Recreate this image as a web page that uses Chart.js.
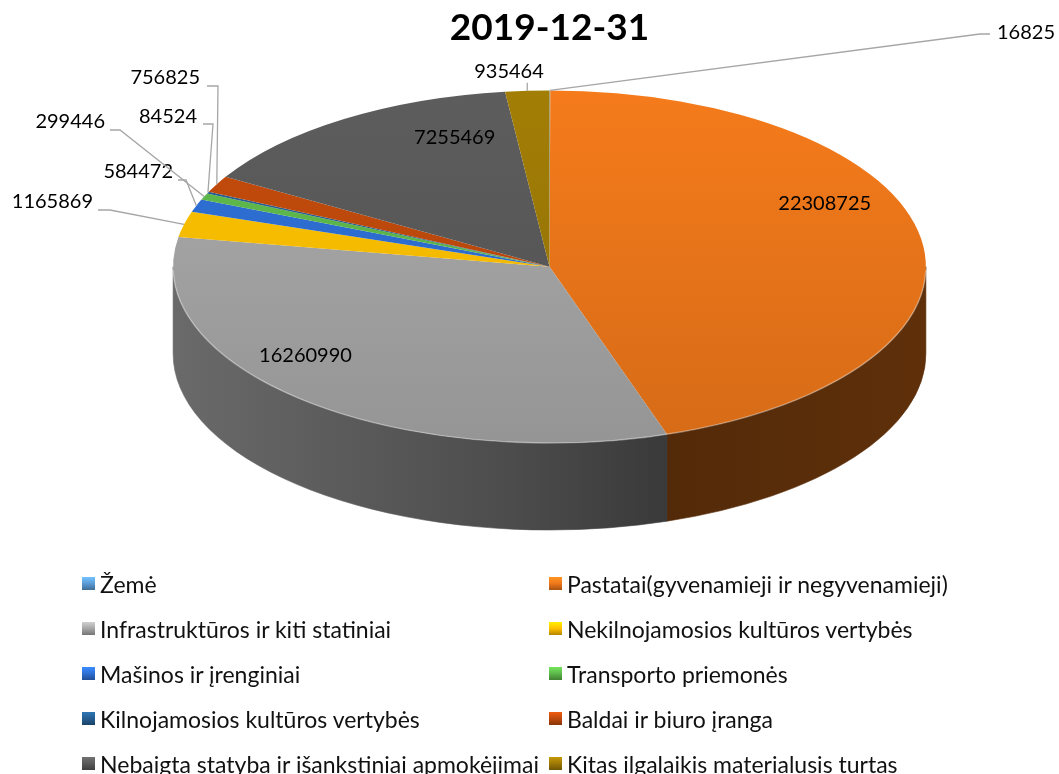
<!DOCTYPE html>
<html>
<head>
<meta charset="utf-8">
<script src="https://cdn.jsdelivr.net/npm/chart.js@4.4.1/dist/chart.umd.min.js"></script>
<style>
  body { margin: 0; background: #fff; }
  #wrap { position: relative; width: 1059px; height: 774px; font-family: Lato, sans-serif; }
  .col { position: absolute; top: 561px; font-size: 23px; color: #111; }
  #legend1 { right: 520px; }
  #legend2 { left: 549px; }
  .item { display: flex; align-items: center; height: 45px; white-space: nowrap; }
  .box { width: 13px; height: 13px; margin-right: 5px; flex: none; }
</style>
</head>
<body>
<div id="wrap">
  <canvas id="canvas" width="1059" height="774"></canvas>
  <div class="col" id="legend1"></div>
  <div class="col" id="legend2"></div>
</div>
<script>
// data
var title = '2019-12-31';
var categories = [
  'Žemė',
  'Pastatai(gyvenamieji ir negyvenamieji)',
  'Infrastruktūros ir kiti statiniai',
  'Nekilnojamosios kultūros vertybės',
  'Mašinos ir įrenginiai',
  'Transporto priemonės',
  'Kilnojamosios kultūros vertybės',
  'Baldai ir biuro įranga',
  'Nebaigta statyba ir išankstiniai apmokėjimai',
  'Kitas ilgalaikis materialusis turtas'
];
var values = [16825, 22308725, 16260990, 1165869, 584472, 299446, 84524, 756825, 7255469, 935464];
var colors = ['#5B9BD5', '#EE771A', '#A6A6A6', '#FFC000', '#2E6FD4', '#5DB84A', '#255E91', '#C04A0C', '#5A5A5A', '#9E7A06'];

// look of the "3D" pie
var stretch = 2.135;   // top face is a circle stretched sideways
var depth = 87;        // height of the side wall

// where each value label goes: inside (fraction of radius + nudge) or outside with a leader line
var labelPlace = [
  {text: [997, 33, 'left'], knee: [[980, 34], [990, 34]]},
  {inside: 0.7, dx: 15, dy: -44},
  {inside: 0.7, dx: -72, dy: -5},
  {text: [93, 202, 'right'], knee: [[110, 210], [98, 210]]},
  {text: [173, 172, 'right'], knee: [[186, 180], [178, 180]]},
  {text: [105, 122, 'right'], knee: [[120, 130], [110, 130]]},
  {text: [197, 117, 'right'], knee: [[213, 124], [203, 124]]},
  {text: [200, 78, 'right'], knee: [[218, 86], [207, 86]]},
  {inside: 0.7, dx: 49, dy: -26},
  {text: [509, 72, 'center'], tick: 8}
];

function shade(hex, f) {
  var n = parseInt(hex.slice(1), 16);
  var r = Math.min(255, Math.round(((n >> 16) & 255) * f));
  var g = Math.min(255, Math.round(((n >> 8) & 255) * f));
  var b = Math.min(255, Math.round((n & 255) * f));
  return 'rgb(' + r + ',' + g + ',' + b + ')';
}

var pie3d = {
  id: 'pie3d',
  beforeDatasetsDraw: function(chart) {
    var ctx = chart.ctx;
    var arcs = chart.getDatasetMeta(0).data;
    var cx = arcs[0].x, cy = arcs[0].y, r = arcs[0].outerRadius;
    var rx = r * stretch, ry = r;

    // side wall, only the front half can be seen
    ctx.save();
    arcs.forEach(function(arc, i) {
      [-2 * Math.PI, 0, 2 * Math.PI].forEach(function(shift) {
        var a0 = Math.max(arc.startAngle + shift, 0);
        var a1 = Math.min(arc.endAngle + shift, Math.PI);
        if (a1 <= a0) return;
        var g = ctx.createLinearGradient(cx - rx, 0, cx + rx, 0);
        g.addColorStop(0, shade(colors[i], 0.64));
        g.addColorStop(0.45, shade(colors[i], 0.46));
        g.addColorStop(0.65, shade(colors[i], 0.35));
        g.addColorStop(1, shade(colors[i], 0.4));
        ctx.beginPath();
        ctx.ellipse(cx, cy, rx, ry, 0, a0, a1, false);
        ctx.ellipse(cx, cy + depth, rx, ry, 0, a1, a0, true);
        ctx.closePath();
        ctx.fillStyle = g;
        ctx.strokeStyle = g;
        ctx.lineWidth = 0.6;
        ctx.fill();
        ctx.stroke();
      });
    });
    ctx.restore();

    // top face: let Chart.js draw the arcs, stretched sideways
    ctx.save();
    ctx.translate(cx, cy);
    ctx.scale(stretch, 1);
    ctx.translate(-cx, -cy);
  },
  afterDatasetsDraw: function(chart) {
    var ctx = chart.ctx;
    ctx.restore();
    var arcs = chart.getDatasetMeta(0).data;
    var cx = arcs[0].x, cy = arcs[0].y, r = arcs[0].outerRadius;
    var rx = r * stretch, ry = r;

    // light rim on the front edge
    ctx.save();
    ctx.beginPath();
    ctx.ellipse(cx, cy, rx, ry, 0, 0.02, Math.PI - 0.02, false);
    ctx.strokeStyle = 'rgba(255,255,255,0.35)';
    ctx.lineWidth = 1.5;
    ctx.stroke();
    ctx.restore();

    // value labels
    ctx.save();
    ctx.font = '20px Lato';
    ctx.fillStyle = '#000';
    ctx.textBaseline = 'middle';
    arcs.forEach(function(arc, i) {
      var p = labelPlace[i];
      var mid = (arc.startAngle + arc.endAngle) / 2;
      var txt = String(values[i]);
      if (p.inside) {
        ctx.textAlign = 'center';
        ctx.fillText(txt, cx + rx * p.inside * Math.cos(mid) + p.dx, cy + ry * p.inside * Math.sin(mid) + p.dy);
        return;
      }
      var ex = cx + rx * Math.cos(mid), ey = cy + ry * Math.sin(mid);
      ctx.strokeStyle = '#A6A6A6';
      ctx.lineWidth = 1.3;
      ctx.beginPath();
      ctx.moveTo(ex, ey);
      if (p.knee) {
        ctx.lineTo(p.knee[0][0], p.knee[0][1]);
        ctx.lineTo(p.knee[1][0], p.knee[1][1]);
      } else {
        ctx.lineTo(ex, ey - p.tick);
      }
      ctx.stroke();
      ctx.textAlign = p.text[2];
      ctx.fillText(txt, p.text[0], p.text[1]);
    });
    ctx.restore();
  }
};

Chart.defaults.font.family = 'Lato';

var ctx = document.getElementById('canvas').getContext('2d');
var myChart = new Chart(ctx, {
  type: 'pie',
  data: {
    labels: categories,
    datasets: [{
      data: values,
      backgroundColor: function(c) {
        var area = c.chart.chartArea;
        var base = colors[c.dataIndex];
        if (!area) return base;
        var g = c.chart.ctx.createLinearGradient(0, area.top, 0, area.bottom);
        g.addColorStop(0, shade(base, 1.03));
        g.addColorStop(1, shade(base, 0.9));
        return g;
      },
      borderWidth: 0,
      clip: false
    }]
  },
  options: {
    responsive: false,
    animation: false,
    events: [],
    layout: { padding: { left: 150, right: 110, top: 0, bottom: 331 } },
    plugins: {
      legend: { display: false },
      tooltip: { enabled: false },
      title: {
        display: true,
        text: title,
        color: '#000',
        font: { family: 'Lato', size: 37, weight: 'bold' },
        padding: { top: 6, bottom: 40 }
      }
    }
  },
  plugins: [pie3d]
});

// legend in two columns, same order as the data
categories.forEach(function(name, i) {
  var item = document.createElement('div');
  item.className = 'item';
  var box = document.createElement('span');
  box.className = 'box';
  box.style.background = 'linear-gradient(' + shade(colors[i], 1.25) + ',' + colors[i] + ' 50%,' + shade(colors[i], 0.7) + ')';
  item.appendChild(box);
  item.appendChild(document.createTextNode(name));
  document.getElementById(i % 2 === 0 ? 'legend1' : 'legend2').appendChild(item);
});
</script>
</body>
</html>
